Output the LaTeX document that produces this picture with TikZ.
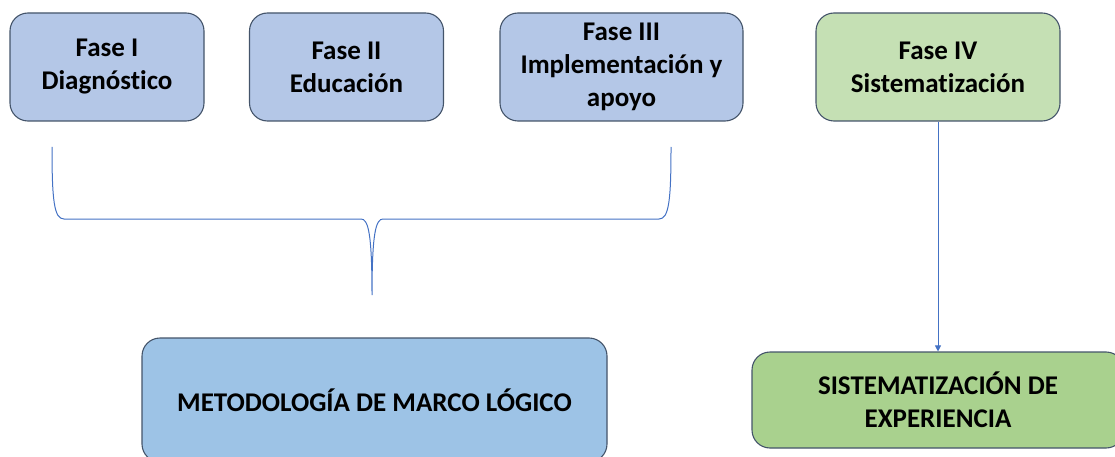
\documentclass[tikz,border=0pt]{standalone}
\usepackage{fontspec}
\setmainfont{Carlito}[Ligatures=NoCommon]
\usetikzlibrary{arrows.meta}
\definecolor{phblue}{HTML}{B4C7E7}
\definecolor{phgreen}{HTML}{C5E0B4}
\definecolor{mlblue}{HTML}{9DC3E6}
\definecolor{sxgreen}{HTML}{A9D18E}
\definecolor{bordercol}{HTML}{44546A}
\definecolor{linecol}{HTML}{4472C4}
\begin{document}
\begin{tikzpicture}[x=1pt,y=-1pt,
  box/.style={draw=bordercol, line width=1.1pt, rounded corners=18pt, align=center,
    font=\fontsize{27}{33}\selectfont\bfseries, inner sep=0pt},
  phase/.style={box, minimum width=194pt, minimum height=108pt},
  conn/.style={draw=linecol, line width=1pt},
  arrowline/.style={conn, -{Triangle[width=6pt,length=6pt]}}]
\useasboundingbox (0,0) rectangle (1115,457);
\clip (0,0) rectangle (1115,457);
\node[phase, fill=phblue] (f1) at (107,67) {Fase I\\Diagnóstico};
\node[phase, fill=phblue] (f2) at (346.5,67) {Fase II\\Educación};
\node[phase, fill=phblue, minimum width=243pt] (f3) at (621.5,67) {Fase III\\Implementación y\\apoyo};
\node[phase, fill=phgreen, minimum width=244pt] (f4) at (938,67) {Fase IV\\Sistematización};
\node[box, fill=mlblue, minimum width=465pt, minimum height=124pt] (ml) at (374.5,400) {METODOLOGÍA DE MARCO LÓGICO};
\node[box, fill=sxgreen, minimum width=372pt, minimum height=96pt] (sx) at (938,400) {SISTEMATIZACIÓN DE\\EXPERIENCIA};
\draw[conn] (52,147) .. controls (52,200) and (54,219) .. (64,219) -- (361,219)
  .. controls (368,219) and (372,232) .. (372,295)
  .. controls (372,232) and (376,219) .. (383,219) -- (659,219)
  .. controls (669,219) and (671,200) .. (671,147);
\draw[arrowline] (f4.south) -- (sx.north);
\end{tikzpicture}
\end{document}
